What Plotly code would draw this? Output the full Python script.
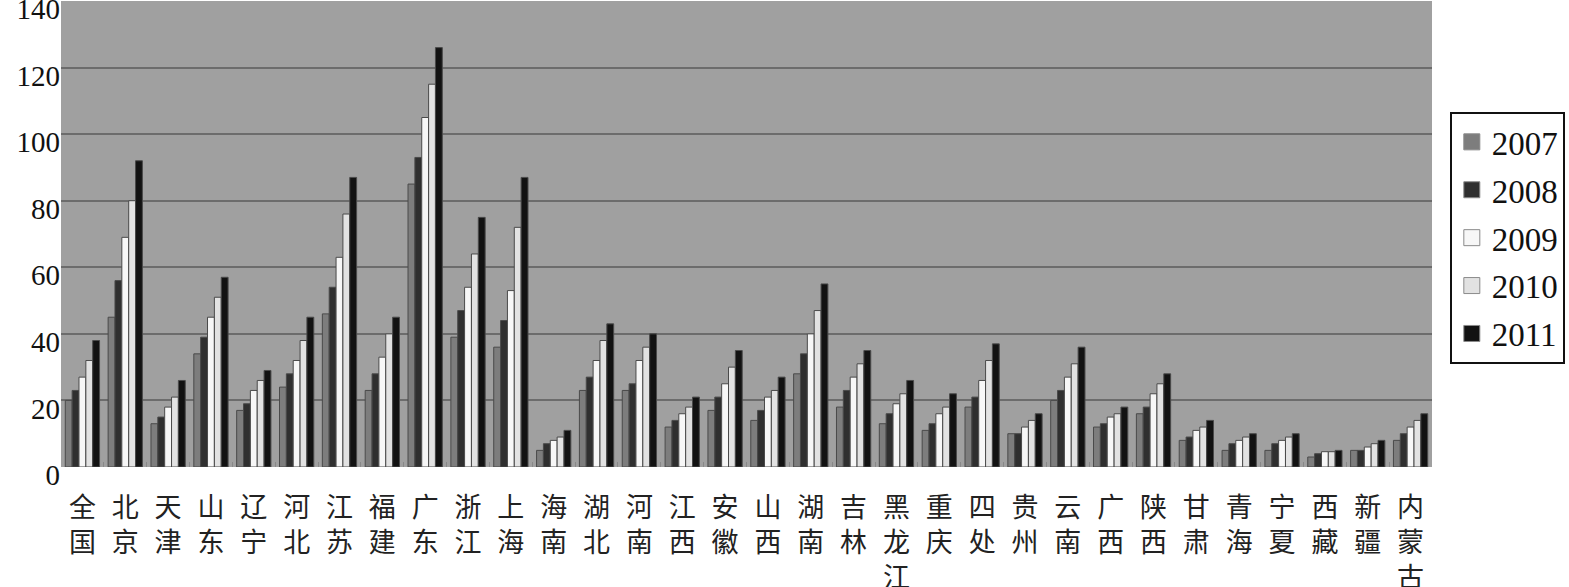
import plotly.graph_objects as go

regions = ['全国','北京','天津','山东','辽宁','河北','江苏','福建','广东','浙江','上海','海南','湖北','河南',
           '江西','安徽','山西','湖南','吉林','黑龙江','重庆','四处','贵州','云南','广西','陕西','甘肃','青海',
           '宁夏','西藏','新疆','内蒙古']

v2007 = [20, 45, 13, 34, 17, 24, 46, 23, 85, 39, 36, 5, 23, 23, 12, 17, 14, 28, 18, 13, 11, 18, 10, 20, 12, 16, 8, 5, 5, 3, 5, 8]
v2008 = [23, 56, 15, 39, 19, 28, 54, 28, 93, 47, 44, 7, 27, 25, 14, 21, 17, 34, 23, 16, 13, 21, 10, 23, 13, 18, 9, 7, 7, 4, 5, 10]
v2009 = [27, 69, 18, 45, 23, 32, 63, 33, 105, 54, 53, 8, 32, 32, 16, 25, 21, 40, 27, 19, 16, 26, 12, 27, 15, 22, 11, 8, 8, 4.6, 6, 12]
v2010 = [32, 80, 21, 51, 26, 38, 76, 40, 115, 64, 72, 9, 38, 36, 18, 30, 23, 47, 31, 22, 18, 32, 14, 31, 16, 25, 12, 9, 9, 4.6, 7, 14]
v2011 = [38, 92, 26, 57, 29, 45, 87, 45, 126, 75, 87, 11, 43, 40, 21, 35, 27, 55, 35, 26, 22, 37, 16, 36, 18, 28, 14, 10, 10, 5, 8, 16]

years = ['2007', '2008', '2009', '2010', '2011']
series = [v2007, v2008, v2009, v2010, v2011]
colors = ['#7d7d7d', '#2f2f2f', '#f7f7f7', '#e2e2e2', '#121212']
y_ticks = [0, 20, 40, 60, 80, 100, 120, 140]

tick_text = ['<br>'.join(list(r)) for r in regions]

fig = go.Figure()
for yr, vals, c in zip(years, series, colors):
    fig.add_trace(go.Bar(
        x=regions, y=vals, name=yr, legendgroup=yr, showlegend=False,
        marker=dict(color=c, line=dict(color='#4a4a4a', width=1)),
    ))
# legend entries with larger square swatches
for yr, c in zip(years, colors):
    fig.add_trace(go.Scatter(
        x=[None], y=[None], mode='markers', name=yr, legendgroup=yr,
        marker=dict(symbol='square', size=22, color=c, line=dict(color='#8a8a8a', width=1)),
    ))

fig.update_layout(
    width=1569, height=587,
    margin=dict(l=61, r=137, t=1, b=120, autoexpand=False),
    paper_bgcolor='white',
    plot_bgcolor='#a0a0a0',
    barmode='group', bargap=0.2, bargroupgap=0,
    showlegend=True,
    legend=dict(
        x=1.013, y=0.762, xanchor='left', yanchor='top',
        bgcolor='white', bordercolor='#111111', borderwidth=2,
        font=dict(family='Liberation Serif', size=33, color='#111111'),
        tracegroupgap=2, itemwidth=30, itemsizing='trace',
    ),
)
fig.update_xaxes(
    tickmode='array', tickvals=regions, ticktext=tick_text,
    tickfont=dict(family='Noto Sans CJK SC', size=27, color='#222222'),
    ticks='inside', tickson='boundaries', ticklen=5, tickcolor='#888888',
    showgrid=False, showline=False, zeroline=False, automargin=False,
    ticklabelstandoff=22, ticklabeloverflow='allow',
)
fig.update_yaxes(
    range=[0, 140], tickvals=y_ticks,
    tickfont=dict(family='Liberation Serif', size=29, color='#111111'),
    showgrid=True, gridcolor='#6c6c6c', gridwidth=2,
    zeroline=False, showline=False, ticks='', automargin=False,
    ticklabeloverflow='allow', ticklabelshift=8,
)

fig.write_html('out.html', config={'displayModeBar': False},
               post_script="document.body.style.margin='0';")
